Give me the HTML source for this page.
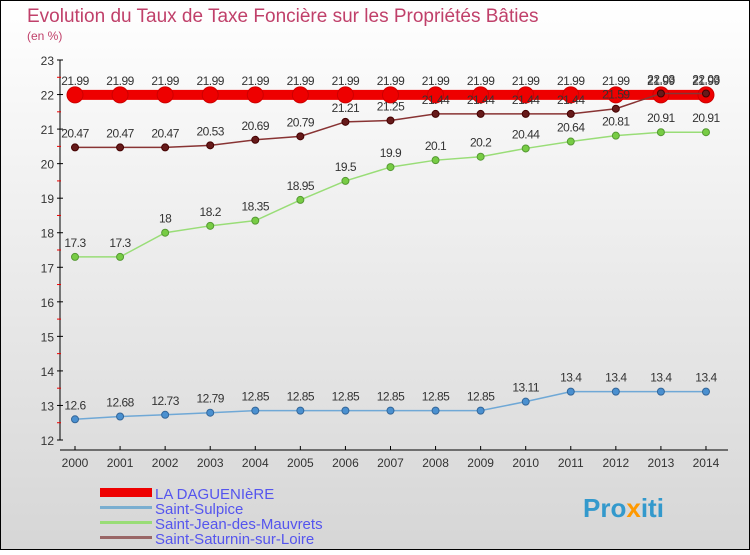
<!DOCTYPE html>
<html><head><meta charset="utf-8"><style>
body{margin:0}
#c{width:750px;height:550px;position:relative;font-family:"Liberation Sans",sans-serif}
</style></head><body>
<div id="c">
<svg id="s" width="750" height="550" xmlns="http://www.w3.org/2000/svg">
<defs><linearGradient id="bg" x1="0" y1="0" x2="0" y2="1"><stop offset="0" stop-color="#ffffff"/><stop offset="1" stop-color="#d6d6d6"/></linearGradient></defs>
<rect x="0.5" y="0.5" width="749" height="549" fill="url(#bg)" stroke="#000"/>
<text x="27" y="22" font-size="19" fill="#c0406a">Evolution du Taux de Taxe Foncière sur les Propriétés Bâties</text>
<text x="27" y="40" font-size="12" fill="#c0406a">(en %)</text>
<g id="axes"></g><g id="series"></g>
<g>
<rect x="100" y="488" width="52" height="9" fill="#e00"/>
<text x="155" y="499" font-size="15" fill="#5555ee">LA DAGUENIèRE</text>
<rect x="100" y="506" width="52" height="3" fill="#7aaed0"/>
<text x="155" y="514" font-size="15" fill="#5555ee">Saint-Sulpice</text>
<rect x="100" y="521" width="52" height="3" fill="#99dd77"/>
<text x="155" y="529" font-size="15" fill="#5555ee">Saint-Jean-des-Mauvrets</text>
<rect x="100" y="536" width="52" height="3" fill="#996666"/>
<text x="155" y="544" font-size="15" fill="#5555ee">Saint-Saturnin-sur-Loire</text>
</g>
<text x="583" y="517" font-size="26" font-weight="bold" fill="#3399cc">Pro<tspan fill="#ff9900">x</tspan>iti</text>
</svg></div>
<script>
const years=[2000,2001,2002,2003,2004,2005,2006,2007,2008,2009,2010,2011,2012,2013,2014];
const yTicks=[12,13,14,15,16,17,18,19,20,21,22,23];
const daguen=[21.99,21.99,21.99,21.99,21.99,21.99,21.99,21.99,21.99,21.99,21.99,21.99,21.99,21.99,21.99];
const sulpice=[12.6,12.68,12.73,12.79,12.85,12.85,12.85,12.85,12.85,12.85,13.11,13.4,13.4,13.4,13.4];
const jean=[17.3,17.3,18,18.2,18.35,18.95,19.5,19.9,20.1,20.2,20.44,20.64,20.81,20.91,20.91];
const saturnin=[20.47,20.47,20.47,20.53,20.69,20.79,21.21,21.25,21.44,21.44,21.44,21.44,21.59,22.03,22.03];
const NS="http://www.w3.org/2000/svg";
const X=i=>75+i*45.07, Y=v=>440-(v-12)*34.545;
function mk(t,a,p){const e=document.createElementNS(NS,t);for(const k in a)e.setAttribute(k,a[k]);p.appendChild(e);return e;}
const ax=document.getElementById('axes');
let e=mk('line',{x1:60,y1:60,x2:60,y2:440,stroke:'#000'},ax);


e=mk('line',{x1:60,y1:450,x2:728,y2:450,stroke:'#000'},ax);


yTicks.forEach(v=>{
 mk('line',{x1:57,y1:Y(v),x2:63,y2:Y(v),stroke:'#000'},ax);
 if(v<23)mk('line',{x1:57,y1:Y(v+0.5),x2:61,y2:Y(v+0.5),stroke:'#e00'},ax);
 const t=mk('text',{x:54,y:Y(v)+5,'font-size':12,'text-anchor':'end',fill:'#333'},ax);t.textContent=v;
 
 
});
years.forEach((y,i)=>{
 mk('line',{x1:X(i),y1:446,x2:X(i),y2:450,stroke:'#000'},ax);
 const t=mk('text',{x:X(i),y:467,'font-size':12,'text-anchor':'middle',fill:'#333'},ax);t.textContent=y;
 
 
});
const sg=document.getElementById('series');
function series(d,name,col,dot,lw,r,dstroke){
 const g=mk('g',{},sg);
 
 
 const p=mk('polyline',{points:d.map((v,i)=>X(i)+','+Y(v)).join(' '),fill:'none',stroke:col,'stroke-width':lw},g);
 
 
 d.forEach((v,i)=>{
  const c=mk('circle',{cx:X(i),cy:Y(v),r:r,fill:dot,stroke:dstroke,'stroke-width':1},g);
  
  
  const t=mk('text',{x:X(i),y:Y(v)-10,'font-size':12,'text-anchor':'middle',fill:'#333','letter-spacing':'-0.5'},g);t.textContent=v;
  
  
 });
}
series(sulpice,'sulpice','#6fa8d6','#4a90d0',1.5,3.5,'#336699');
series(jean,'jean','#99dd77','#77cc44',1.5,3.5,'#559933');
series(daguen,'daguen','#ee0000','#ee0000',10,8,'#cc0000');
series(saturnin,'saturnin','#883333','#661a1a',1.5,3.5,'#440000');
</script>
</body></html>
